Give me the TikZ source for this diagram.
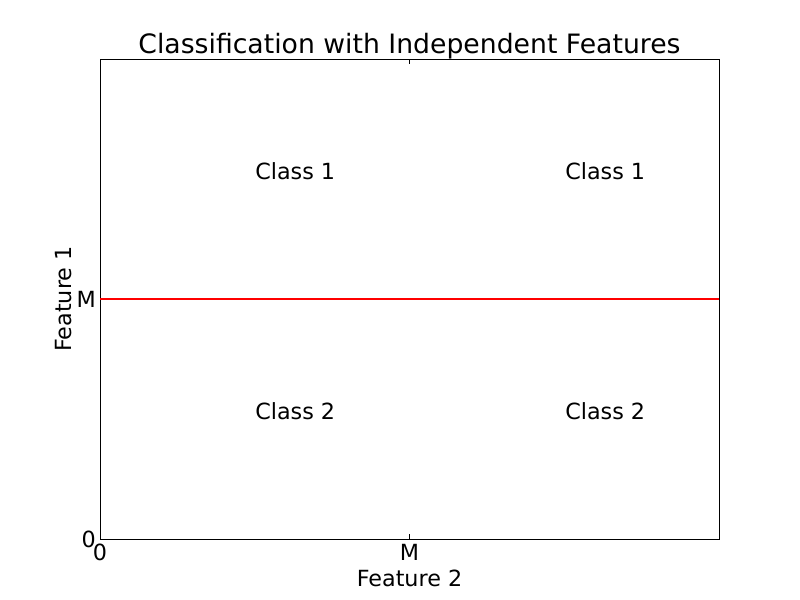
\documentclass[tikz,border=0pt]{standalone}
\usepackage{fontspec}
\setmainfont{DejaVu Sans}
\begin{document}
\begin{tikzpicture}[x=0.75pt,y=-0.75pt,
  lbl/.style={font=\fontsize{16.7}{18}\selectfont, inner sep=0pt},
  ttl/.style={font=\fontsize{20}{22}\selectfont, inner sep=0pt},
  tick/.style={line width=0.6pt}]
\useasboundingbox (0,0) rectangle (800,600);
\fill[white] (0,0) rectangle (800,600);
% frame
\coordinate (bl) at (100,539);
\coordinate (tr) at (719,59);
\draw[line width=0.75pt] (bl) rectangle (tr);
% separator
\coordinate (sl) at (100,299);
\coordinate (sr) at (719,299);
\draw[color=red, line width=0.85pt] (sl) -- (sr);
% ticks (inward)
\coordinate (xb) at (409.5,539);
\coordinate (xt) at (409.5,59);
\draw[tick] (xb) -- ++(0,-5);
\draw[tick] (xt) -- ++(0,5);
% tick labels
\node[lbl, anchor=north] (x0) at (100,544) {0};
\node[lbl, anchor=north] (xm) at (409.5,544) {M};
\node[lbl, anchor=east] (y0) at (96,539) {0};
\node[lbl, anchor=east] (ym) at (96,299) {M};
% axis labels
\node[lbl, anchor=base] (xl) at (409.5,586) {Feature 2};
\node[lbl, anchor=base, rotate=90] (yl) at (71,299) {Feature 1};
% title
\node[ttl, anchor=base] (t) at (409.5,53) {Classification with Independent Features};
% classes
\node[lbl, anchor=base west] (c11) at (255,179) {Class 1};
\node[lbl, anchor=base west] (c12) at (565,179) {Class 1};
\node[lbl, anchor=base west] (c21) at (255,419) {Class 2};
\node[lbl, anchor=base west] (c22) at (565,419) {Class 2};
\end{tikzpicture}
\end{document}
